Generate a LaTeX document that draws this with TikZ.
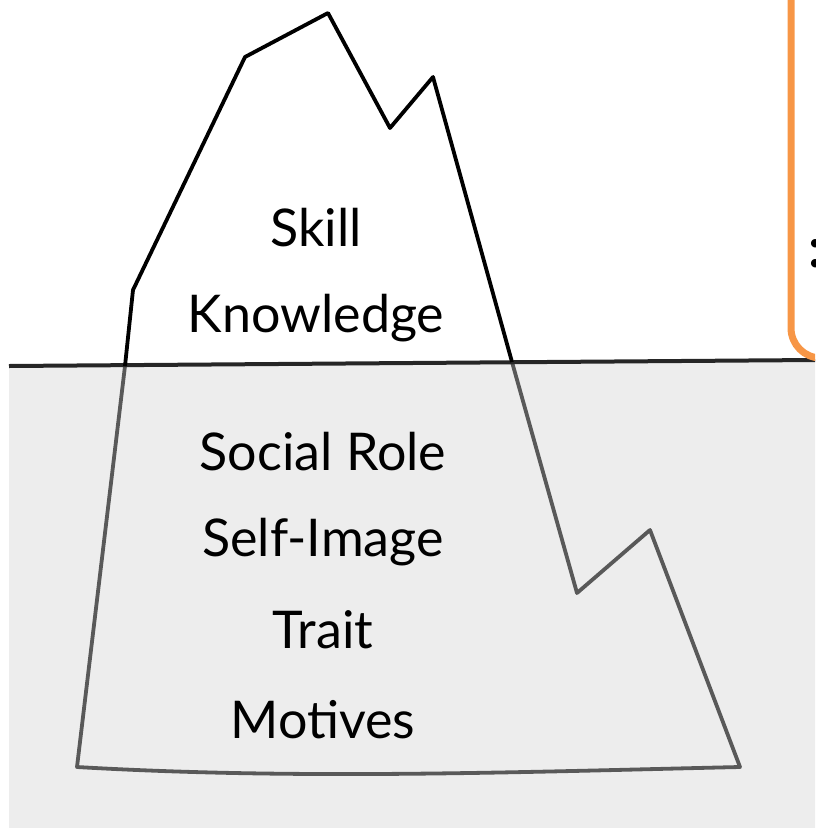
\documentclass[tikz,border=0pt]{standalone}
\usepackage{fontspec}
\setmainfont{Lato}
\definecolor{boxorange}{HTML}{F79646}
\definecolor{seagrey}{HTML}{EDEDED}
\tikzset{
berglabel/.style = {font=\fontsize{52}{56}\selectfont, anchor=center,
                    inner sep=0pt},
tipline/.style   = {draw=black, line width=3.8pt, line join=round},
deepline/.style  = {draw=black!65, line width=3.8pt, line join=round},
water/.style     = {fill=seagrey, draw=none},
surface/.style   = {draw=black!85, line width=4pt},
notebox/.style   = {draw=boxorange, line width=7pt, rounded corners=30pt}
}
\newcommand{\sealevel}{366}

\begin{document}
\begin{tikzpicture}[x=1pt, y=-1pt]
\useasboundingbox (0,0) rectangle (815,828);
\clip (0,0) rectangle (815,828);

% sea
\fill[water] (9,\sealevel) -- (815,360) -- (815,828) -- (9,828) -- cycle;

% iceberg corners
\coordinate (wl) at (125,\sealevel);
\coordinate (wr) at (512,362);
\coordinate (bl) at (77,767);
\coordinate (br) at (740,767);

% under water
\draw[deepline] (wl) -- (bl) .. controls (300,780) and (520,772) .. (br)
    -- (650,530) -- (577,593) -- (wr);

% surface line
\draw[surface] (9,\sealevel) -- (815,360);

% above water
\draw[tipline] (wl) -- (133,290) -- (245,57) -- (328,13) -- (390,128)
    -- (433,77) -- (wr);

% orange note box, mostly off the page
\draw[notebox] (791,-60) rectangle (900,358);
\node[anchor=west, inner sep=0pt, font=\fontsize{56}{60}\bfseries]
    (colon) at (808,254) {:};

% labels
\node[berglabel] (skill) at (316,228) {Skill};
\node[berglabel] (know)  at (316,318) {Knowledge};
\foreach \name/\txt/\y in {role/Social Role/452, image/Self-Image/542,
                           trait/Trait/630, motive/Motives/720} {
    \node[berglabel] (\name) at (323,\y) {\txt};
}
\end{tikzpicture}
\end{document}
